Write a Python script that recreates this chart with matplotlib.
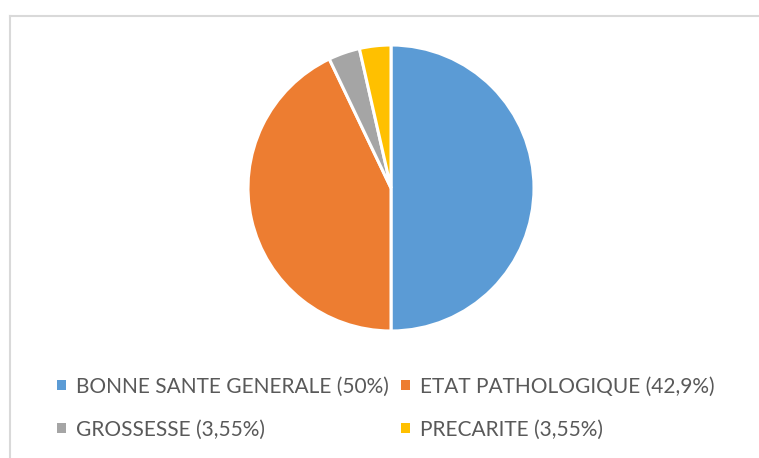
import matplotlib
matplotlib.use('Agg')
import matplotlib.pyplot as plt
from matplotlib.lines import Line2D

# Data
labels = ['BONNE SANTE GENERALE (50%)', 'ETAT PATHOLOGIQUE (42,9%)',
          'GROSSESSE (3,55%)', 'PRECARITE (3,55%)']
values = [50, 42.9, 3.55, 3.55]
colors = ['#5B9BD5', '#ED7D31', '#A5A5A5', '#FFC000']

W, H = 759, 458
fig = plt.figure(figsize=(W / 100, H / 100), dpi=100)
plt.rcParams['font.family'] = ['Lato', 'DejaVu Sans']

# chart frame (only top and left edges visible in the crop)
fig.add_artist(Line2D([10 / W, 1.0], [1 - 16 / H, 1 - 16 / H],
                      color='#D9D9D9', lw=1.5, transform=fig.transFigure))
fig.add_artist(Line2D([10 / W, 10 / W], [0, 1 - 16 / H],
                      color='#D9D9D9', lw=1.5, transform=fig.transFigure))

# pie
cx, cy, r = 391, 188, 143
ax = fig.add_axes([(cx - r) / W, (H - cy - r) / H, 2 * r / W, 2 * r / H])
wedges, _ = ax.pie(values, colors=colors, startangle=90, counterclock=False,
                   radius=1, wedgeprops=dict(edgecolor='white', linewidth=2.2))
ax.set_xlim(-1, 1)
ax.set_ylim(-1, 1)
ax.set_aspect('equal')
ax.axis('off')

# legend: row-wise order (blue, orange / gray, yellow)
order = [0, 2, 1, 3]
leg = fig.legend([wedges[i] for i in order], [labels[i] for i in order],
                 ncol=2, loc='center', bbox_to_anchor=(386 / W, 1 - 408 / H),
                 frameon=False, fontsize=15, handlelength=0.4, handleheight=0.4,
                 handletextpad=0.5, columnspacing=0.6, labelspacing=1.1,
                 labelcolor='#595959')
for h in leg.legend_handles:
    h.set_linewidth(0)

fig.savefig('out.png', dpi=100)
